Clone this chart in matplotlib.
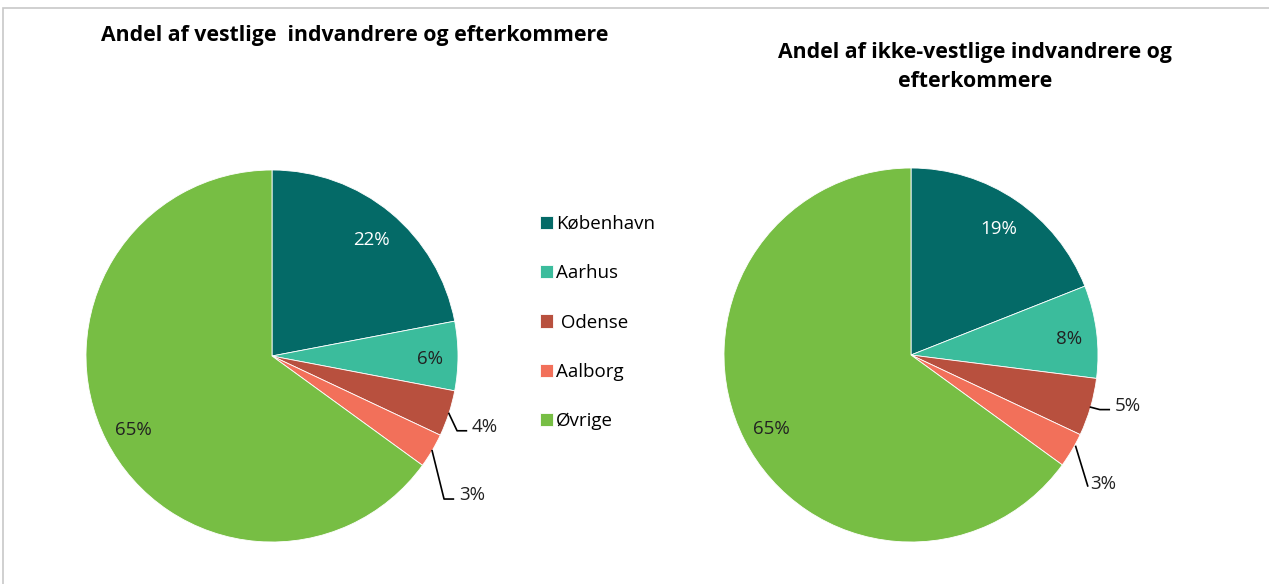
import numpy as np
import matplotlib.pyplot as plt
from matplotlib.patches import Rectangle

byer = ['København', 'Aarhus', ' Odense', 'Aalborg', 'Øvrige']
vestlige = [22, 6, 4, 3, 65]
ikke_vestlige = [19, 8, 5, 3, 65]
titler = ['Andel af vestlige  indvandrere og efterkommere',
          'Andel af ikke-vestlige indvandrere og\nefterkommere']
farver = ['#046a67', '#3bbc9c', '#b8503e', '#f2705a', '#77be44']

plt.rcParams['font.family'] = ['Open Sans', 'DejaVu Sans']

W, H = 1269, 584
fig = plt.figure(figsize=(W / 100, H / 100), dpi=100)
fig.patches.append(Rectangle((3 / W, -0.1), 1.2, 1 - 8 / H + 0.1, transform=fig.transFigure,
                             fill=False, edgecolor='#c8c8c8', linewidth=1.2))


def tegn_pie(cx, cy, r, vals, title, title_y, ude_pos):
    ax = fig.add_axes([(cx - r) / W, (H - cy - r) / H, 2 * r / W, 2 * r / H])
    wedges, _ = ax.pie(vals, colors=farver, startangle=90, counterclock=False,
                       wedgeprops=dict(linewidth=0.6, edgecolor='white'))
    ax.set_xlim(-1, 1)
    ax.set_ylim(-1, 1)
    ax.set_aspect('equal')
    total = float(sum(vals))
    start = 0.0
    for i, v in enumerate(vals):
        mid = start + v / 2
        start += v
        ang = np.deg2rad(90 - 360 * mid / total)
        txt = '%d%%' % v
        if i in ude_pos:
            tx, ty, elbow = ude_pos[i]
            ex, ey = np.cos(ang), np.sin(ang)
            if elbow:
                xs = [ex, tx - 0.15, tx - 0.1]
                ys = [ey, ty - 0.032, ty - 0.032]
            else:
                xs = [ex + 0.02, tx - 0.085]
                ys = [ey + 0.02, ty - 0.02]
            ax.plot(xs, ys, color='black', linewidth=1.2, clip_on=False)
            ax.annotate(txt, (tx, ty), xytext=(0, -1.5), textcoords='offset points',
                        ha='center', va='center', fontsize=13.5, color='#222222',
                        annotation_clip=False)
        else:
            d = 0.85 if v < 10 else 0.835
            col = 'white' if i == 0 else '#222222'
            ax.annotate(txt, (d * np.cos(ang), d * np.sin(ang)), xytext=(0, -2.5),
                        textcoords='offset points', ha='center', va='center',
                        fontsize=13.5, color=col, annotation_clip=False)
    fig.text(cx / W + title[1], 1 - title_y / H, title[0], ha='center', va='center',
             fontsize=15.3, fontweight='bold', linespacing=1.5)
    return wedges


wl = tegn_pie(272, 356, 186, vestlige, (titler[0], 83 / W), 35,
              {2: (1.145, -0.37, True), 3: (1.075, -0.737, True)})
tegn_pie(911, 355, 187, ikke_vestlige, (titler[1], 64 / W), 67,
         {2: (1.16, -0.26, True), 3: (1.03, -0.68, False)})

fig.legend(wl, byer, loc='upper left', bbox_to_anchor=(523 / W, 1 - 198 / H),
           frameon=False, fontsize=13.5, handlelength=0.72, handleheight=0.72,
           handletextpad=0.12, labelspacing=1.67)

fig.savefig('out.png', dpi=100)
